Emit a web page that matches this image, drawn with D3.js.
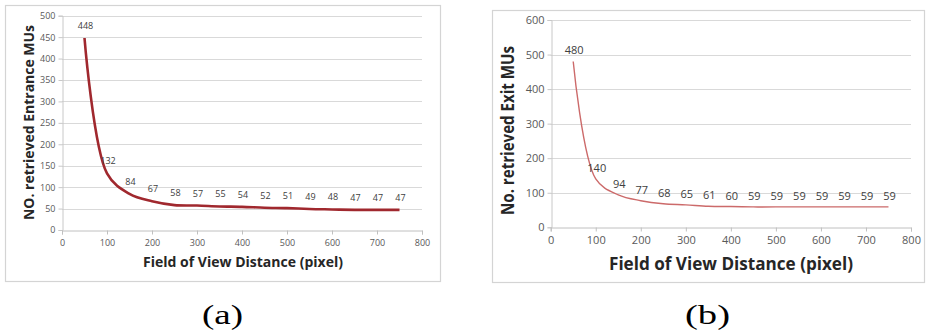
<!DOCTYPE html>
<html>
<head>
<meta charset="utf-8">
<script src="https://cdn.jsdelivr.net/npm/d3@7"></script>
<style>
  html, body { margin: 0; padding: 0; background: #fff; }
  svg { display: block; }
</style>
</head>
<body>
<svg id="chart" width="926" height="335"></svg>
<script>
// ---- Data ----
const fieldOfView = [50, 100, 150, 200, 250, 300, 350, 400, 450, 500, 550, 600, 650, 700, 750];
const entranceMUs = [448, 132, 84, 67, 58, 57, 55, 54, 52, 51, 49, 48, 47, 47, 47];
const exitMUs = [480, 140, 94, 77, 68, 65, 61, 60, 59, 59, 59, 59, 59, 59, 59];
const xTickValues = [0, 100, 200, 300, 400, 500, 600, 700, 800];
const yTicksEntrance = [0, 50, 100, 150, 200, 250, 300, 350, 400, 450, 500];
const yTicksExit = [0, 100, 200, 300, 400, 500, 600];
const xTitle = "Field of View Distance (pixel)";
const yTitleEntrance = "NO. retrieved Entrance MUs";
const yTitleExit = "No. retrieved Exit MUs";
const captions = ["(a)", "(b)"];

const svg = d3.select("#chart");

function drawPanel(cfg) {
  const g = svg.append("g");
  // frame
  g.append("rect")
    .attr("x", cfg.frame[0] + 0.5).attr("y", cfg.frame[1] + 0.5)
    .attr("width", cfg.frame[2] - cfg.frame[0]).attr("height", cfg.frame[3] - cfg.frame[1])
    .attr("fill", "#fff").attr("stroke", "#d4d4d4").attr("stroke-width", 1.2);

  const x = d3.scaleLinear().domain([0, 800]).range([cfg.x0, cfg.x1]);
  const y = d3.scaleLinear().domain([0, cfg.yMax]).range([cfg.y0, cfg.y1]);

  // gridlines
  g.append("g").selectAll("line").data(cfg.yTicks.filter(d => d > 0)).join("line")
    .attr("x1", cfg.x0).attr("x2", cfg.x1)
    .attr("y1", d => Math.round(y(d)) + 0.5).attr("y2", d => Math.round(y(d)) + 0.5)
    .attr("stroke", "#d9d9d9").attr("stroke-width", 1.1);

  // y axis
  const yAxis = g.append("g")
    .attr("transform", `translate(${Math.round(cfg.x0) + 0.5},0)`)
    .call(d3.axisLeft(y).tickValues(cfg.yTicks).tickSize(4).tickPadding(3));
  yAxis.select(".domain").attr("stroke", "#c8c8c8");
  yAxis.selectAll(".tick line").attr("stroke", "#c8c8c8");
  yAxis.selectAll(".tick text")
    .attr("fill", "#595959").style("font-family", "'Open Sans', sans-serif")
    .style("font-size", cfg.tickFont + "px");

  // x axis
  const xAxis = g.append("g")
    .attr("transform", `translate(0,${Math.round(cfg.y0) + 0.5})`)
    .call(d3.axisBottom(x).tickValues(xTickValues).tickSize(4).tickPadding(5));
  xAxis.select(".domain").attr("stroke", "#c0c0c0");
  xAxis.selectAll(".tick line").attr("stroke", "#c0c0c0");
  xAxis.selectAll(".tick text")
    .attr("fill", "#595959").style("font-family", "'Open Sans', sans-serif")
    .style("font-size", cfg.tickFont + "px");

  // line
  const pts = fieldOfView.map((d, i) => [d, cfg.values[i]]);
  g.append("path")
    .datum(pts)
    .attr("fill", "none")
    .attr("stroke", cfg.lineColor)
    .attr("stroke-width", cfg.lineWidth)
    .attr("stroke-linejoin", "round")
    .attr("d", d3.line().x(d => x(d[0])).y(d => y(d[1])).curve(d3.curveCatmullRom.alpha(0.5)));

  // data labels
  g.append("g").selectAll("text").data(pts).join("text")
    .attr("x", d => x(d[0]) + 1)
    .attr("y", d => y(d[1]) - cfg.labelOffset)
    .attr("text-anchor", "middle")
    .attr("fill", "#404040")
    .style("font-family", "'Open Sans', sans-serif")
    .style("font-size", cfg.labelFont + "px")
    .text(d => d[1]);

  // x title
  g.append("text")
    .attr("x", cfg.xTitlePos[0]).attr("y", cfg.xTitlePos[1])
    .attr("text-anchor", "middle")
    .attr("fill", "#262626")
    .style("font-family", "'Open Sans', sans-serif")
    .style("font-weight", "bold")
    .style("font-size", cfg.titleFont + "px")
    .attr("textLength", cfg.xTitleLen).attr("lengthAdjust", "spacingAndGlyphs")
    .text(xTitle);

  // y title
  g.append("text")
    .attr("transform", `translate(${cfg.yTitlePos[0]},${cfg.yTitlePos[1]}) rotate(-90)`)
    .attr("text-anchor", "middle")
    .attr("fill", "#262626")
    .style("font-family", "'Open Sans', sans-serif")
    .style("font-weight", "bold")
    .style("font-size", cfg.titleFont + "px")
    .attr("textLength", cfg.yTitleLen).attr("lengthAdjust", "spacingAndGlyphs")
    .text(cfg.yTitle);

  // caption
  g.append("text")
    .attr("x", cfg.caption[0]).attr("y", cfg.caption[1])
    .attr("text-anchor", "middle")
    .attr("fill", "#000")
    .style("font-family", "'Liberation Serif', 'Times New Roman', serif")
    .style("font-size", "27px")
    .attr("textLength", cfg.captionLen).attr("lengthAdjust", "spacingAndGlyphs")
    .text(cfg.captionText);
}

drawPanel({
  frame: [5, 5, 440, 281],
  x0: 62, x1: 422, y0: 230, y1: 15.7,
  yMax: 500, yTicks: yTicksEntrance,
  values: entranceMUs,
  lineColor: "#a0282e", lineWidth: 2.6,
  tickFont: 9, labelFont: 9, labelOffset: 9,
  titleFont: 15,
  xTitlePos: [243, 267], xTitleLen: 200,
  yTitlePos: [33.5, 122.5], yTitleLen: 195,
  yTitle: yTitleEntrance,
  caption: [222.5, 324], captionLen: 41, captionText: captions[0]
});

drawPanel({
  frame: [492, 10, 924, 282],
  x0: 550.7, x1: 911, y0: 227.3, y1: 20,
  yMax: 600, yTicks: yTicksExit,
  values: exitMUs,
  lineColor: "#cc6a6a", lineWidth: 1.4,
  tickFont: 11, labelFont: 11, labelOffset: 7,
  titleFont: 17.5,
  xTitlePos: [731, 269.5], xTitleLen: 244,
  yTitlePos: [513.5, 130.5], yTitleLen: 169,
  yTitle: yTitleExit,
  caption: [707.5, 324], captionLen: 45, captionText: captions[1]
});
</script>
</body>
</html>
